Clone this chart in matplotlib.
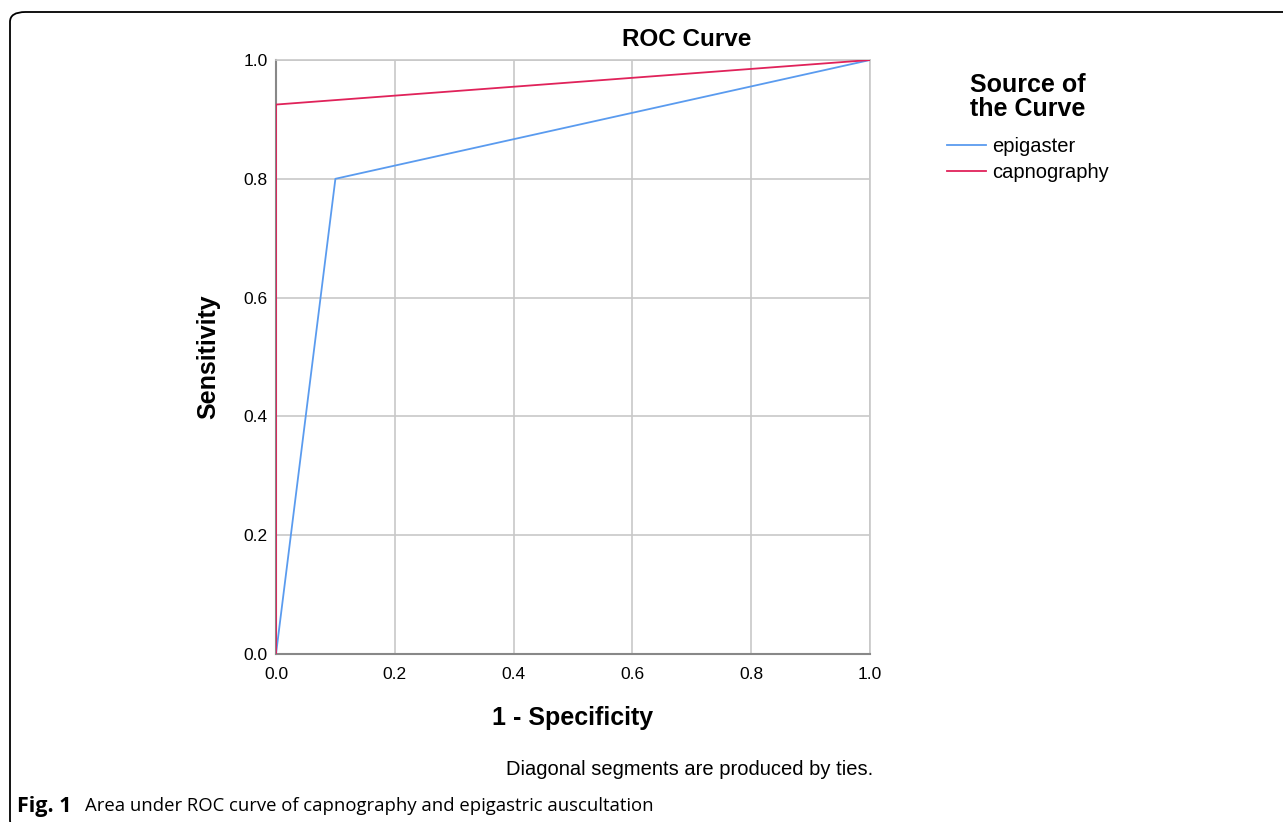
import matplotlib
matplotlib.use("Agg")
import matplotlib.pyplot as plt
from matplotlib.patches import FancyBboxPatch

# ROC points
epi_fpr = [0.0, 0.1, 1.0]
epi_tpr = [0.0, 0.8, 1.0]
cap_fpr = [0.0, 0.0, 1.0]
cap_tpr = [0.0, 0.925, 1.0]
ticks = [0.0, 0.2, 0.4, 0.6, 0.8, 1.0]

W, H = 1283, 822
plt.rcParams['font.family'] = ['Liberation Sans', 'DejaVu Sans']

fig = plt.figure(figsize=(W / 100, H / 100), dpi=100)

# rounded frame around the figure
frame = FancyBboxPatch((10 / W, 1 - 830 / H), 1300 / W, 818 / H,
                       boxstyle="round,pad=0,rounding_size=0.012",
                       transform=fig.transFigure, fill=False,
                       edgecolor='black', linewidth=1.3, clip_on=False)
fig.patches.append(frame)

ax = fig.add_axes([276 / W, 1 - 654 / H, 594 / W, 594 / H])
ax.plot(epi_fpr, epi_tpr, color='#5a9bef', lw=1.3, label='epigaster', zorder=3)
ax.plot(cap_fpr, cap_tpr, color='#e0225a', lw=1.3, label='capnography', zorder=4)

ax.set_xlim(0, 1)
ax.set_ylim(0, 1)
ax.set_xticks(ticks)
ax.set_yticks(ticks)
ax.set_xticklabels([f"{t:.1f}" for t in ticks])
ax.set_yticklabels([f"{t:.1f}" for t in ticks])
ax.grid(True, color='#c8c8c8', lw=1.2, zorder=0)
ax.tick_params(length=0, labelsize=12.5)
ax.tick_params(axis='x', pad=9)
ax.tick_params(axis='y', pad=6)
for s in ['top', 'right']:
    ax.spines[s].set_color('#c8c8c8')
    ax.spines[s].set_linewidth(1.2)
for s in ['left', 'bottom']:
    ax.spines[s].set_color('#888888')
    ax.spines[s].set_linewidth(1.5)

fig.text(687 / W, 1 - 40 / H, 'ROC Curve', fontsize=17.5, fontweight='bold',
         ha='center', va='center')
ax.set_xlabel('1 - Specificity', fontsize=18, fontweight='bold', va='center')
ax.xaxis.set_label_coords(0.5, (654 - 718) / 594)
ax.set_ylabel('Sensitivity', fontsize=18, fontweight='bold', va='center')
ax.yaxis.set_label_coords((208 - 276) / 594, 0.5)

# legend title and entries
fig.text(1028 / W, 1 - 97 / H, 'Source of\nthe Curve', fontsize=18,
         fontweight='bold', ha='center', va='center', linespacing=1.0)
ax.legend(loc='upper left', bbox_to_anchor=(947 / W, 1 - 137 / H),
          bbox_transform=fig.transFigure, frameon=False, fontsize=14.5,
          borderpad=0, borderaxespad=0, handlelength=1.95,
          handletextpad=0.3, labelspacing=0.35)

fig.text(873 / W, 1 - 769 / H, 'Diagonal segments are produced by ties.',
         fontsize=14.5, ha='right', va='center')
fig.text(17 / W, 1 - 806 / H, 'Fig. 1', fontsize=15.5, fontweight='bold',
         family=['Open Sans', 'DejaVu Sans'], ha='left', va='center')
fig.text(85 / W, 1 - 806 / H,
         'Area under ROC curve of capnography and epigastric auscultation',
         fontsize=13.3, family=['Open Sans', 'DejaVu Sans'], ha='left', va='center')

fig.savefig('out.png', dpi=100)
